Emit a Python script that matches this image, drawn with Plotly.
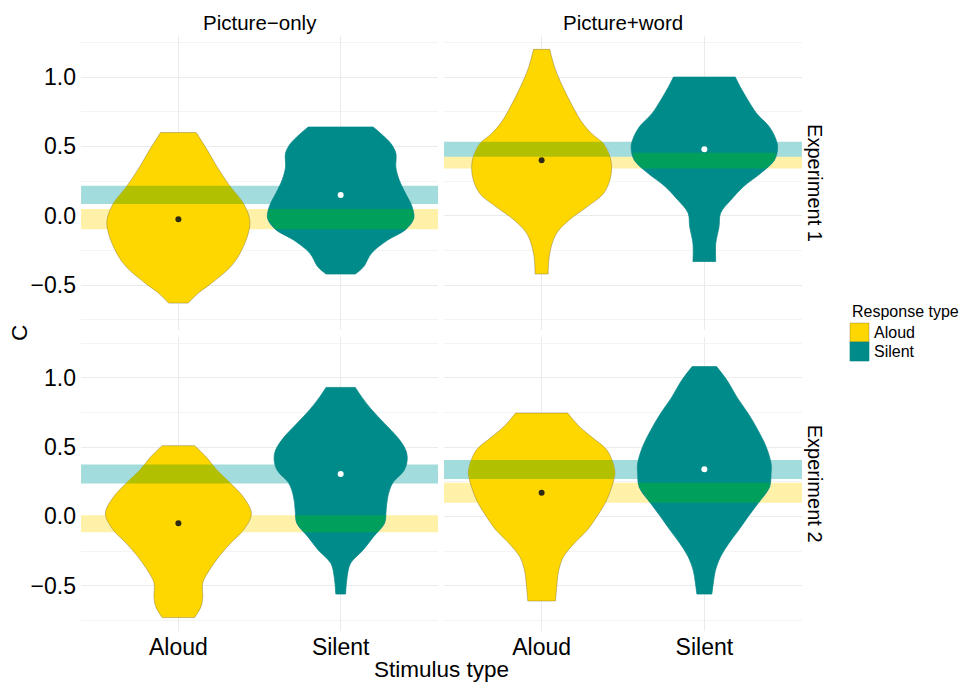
import numpy as np
import plotly.graph_objects as go

# ---- data -------------------------------------------------------------
stimulus_types = ["Picture−only", "Picture+word"]
experiments = ["Experiment 1", "Experiment 2"]
response_types = ["Aloud", "Silent"]

# Violin outlines: C levels (bottom -> top) and density half-widths
# (in category units) for each panel and response type.
e1_po_aloud_c = [-0.63, -0.56, -0.49, -0.37, -0.27, -0.13, -0.03, 0.09, 0.21, 0.35, 0.47, 0.60]
e1_po_aloud_w = [0.06, 0.12, 0.20, 0.32, 0.38, 0.43, 0.44, 0.40, 0.32, 0.24, 0.18, 0.11]
e1_po_silent_c = [-0.42, -0.37, -0.27, -0.175, -0.10, -0.02, 0.065, 0.16, 0.26, 0.35, 0.45, 0.52, 0.59, 0.64]
e1_po_silent_w = [0.09, 0.14, 0.19, 0.29, 0.40, 0.45, 0.44, 0.40, 0.36, 0.34, 0.34, 0.31, 0.25, 0.20]

e1_pw_aloud_c = [-0.42, -0.27, -0.13, -0.03, 0.065, 0.16, 0.26, 0.35, 0.425, 0.52, 0.59, 0.67, 0.79, 0.93, 1.07, 1.20]
e1_pw_aloud_w = [0.04, 0.05, 0.09, 0.17, 0.28, 0.38, 0.42, 0.43, 0.42, 0.38, 0.31, 0.25, 0.19, 0.13, 0.08, 0.05]
e1_pw_silent_c = [-0.33, -0.20, -0.08, 0.02, 0.11, 0.21, 0.31, 0.40, 0.49, 0.55, 0.64, 0.74, 0.83, 0.93, 1.00]
e1_pw_silent_w = [0.07, 0.07, 0.09, 0.10, 0.16, 0.24, 0.35, 0.43, 0.45, 0.44, 0.40, 0.32, 0.27, 0.22, 0.19]

e2_po_aloud_c = [-0.73, -0.65, -0.58, -0.48, -0.39, -0.29, -0.195, -0.10, 0.02, 0.14, 0.24, 0.33, 0.43, 0.51]
e2_po_aloud_w = [0.10, 0.14, 0.15, 0.15, 0.19, 0.25, 0.32, 0.40, 0.45, 0.40, 0.32, 0.24, 0.17, 0.10]
e2_po_silent_c = [-0.56, -0.435, -0.34, -0.24, -0.15, -0.05, 0.045, 0.14, 0.24, 0.33, 0.41, 0.48, 0.57, 0.67, 0.77, 0.86, 0.93]
e2_po_silent_w = [0.03, 0.04, 0.06, 0.14, 0.20, 0.27, 0.28, 0.29, 0.32, 0.39, 0.41, 0.40, 0.35, 0.27, 0.19, 0.13, 0.09]

e2_pw_aloud_c = [-0.61, -0.48, -0.39, -0.29, -0.195, -0.10, 0.00, 0.094, 0.21, 0.31, 0.38, 0.48, 0.57, 0.65, 0.745]
e2_pw_aloud_w = [0.085, 0.095, 0.105, 0.135, 0.20, 0.28, 0.34, 0.39, 0.43, 0.45, 0.44, 0.40, 0.31, 0.23, 0.16]
e2_pw_silent_c = [-0.56, -0.48, -0.39, -0.29, -0.195, -0.10, 0.00, 0.094, 0.21, 0.31, 0.38, 0.50, 0.62, 0.74, 0.86, 0.98, 1.08]
e2_pw_silent_w = [0.046, 0.055, 0.068, 0.10, 0.15, 0.21, 0.27, 0.33, 0.40, 0.41, 0.41, 0.38, 0.33, 0.27, 0.20, 0.14, 0.075]

# Means (dots) and interval bands per panel: [Aloud, Silent]
e1_po_mean = [-0.025, 0.15]
e1_pw_mean = [0.40, 0.48]
e2_po_mean = [-0.05, 0.305]
e2_pw_mean = [0.17, 0.34]

e1_po_band_lo = [-0.098, 0.084]
e1_po_band_hi = [0.048, 0.216]
e1_pw_band_lo = [0.34, 0.425]
e1_pw_band_hi = [0.455, 0.534]
e2_po_band_lo = [-0.115, 0.238]
e2_po_band_hi = [0.009, 0.375]
e2_pw_band_lo = [0.098, 0.269]
e2_pw_band_hi = [0.242, 0.406]

panels = {
    (0, 0): dict(c=[e1_po_aloud_c, e1_po_silent_c], w=[e1_po_aloud_w, e1_po_silent_w],
                 mean=e1_po_mean, lo=e1_po_band_lo, hi=e1_po_band_hi),
    (0, 1): dict(c=[e1_pw_aloud_c, e1_pw_silent_c], w=[e1_pw_aloud_w, e1_pw_silent_w],
                 mean=e1_pw_mean, lo=e1_pw_band_lo, hi=e1_pw_band_hi),
    (1, 0): dict(c=[e2_po_aloud_c, e2_po_silent_c], w=[e2_po_aloud_w, e2_po_silent_w],
                 mean=e2_po_mean, lo=e2_po_band_lo, hi=e2_po_band_hi),
    (1, 1): dict(c=[e2_pw_aloud_c, e2_pw_silent_c], w=[e2_pw_aloud_w, e2_pw_silent_w],
                 mean=e2_pw_mean, lo=e2_pw_band_lo, hi=e2_pw_band_hi),
}

# ---- styles -----------------------------------------------------------
FILL = ["#FFD700", "#008B8B"]
OUTLINE = ["rgba(120,105,50,0.6)", "#008585"]
BAND = ["#FFF1A8", "#A2DCDC"]
# colour of a band where it crosses the violin of the other response type
CROSS = {0: "#00A05C", 1: "#B1C000"}
DOT = ["#2E2912", "#FFFFFF"]
FONT = "Liberation Sans, Arial, Helvetica, sans-serif"

X_DOM = [[0.0844, 0.4563], [0.4625, 0.8354]]
Y_DOM = [[0.5171, 0.9475], [0.0776, 0.5080]]
X_RANGE = [0.4, 2.6]
Y_RANGE = [-0.826, 1.297]


def clipped(c, w, centre, lo, hi):
    """Polygon of a violin restricted to the C interval [lo, hi]."""
    c = np.asarray(c, float)
    w = np.asarray(w, float)
    lo2, hi2 = max(lo, c[0]), min(hi, c[-1])
    if hi2 <= lo2:
        return None
    inner = c[(c > lo2) & (c < hi2)]
    levels = np.concatenate([[lo2], inner, [hi2]])
    half = np.interp(levels, c, w)
    xs = np.concatenate([centre + half, (centre - half)[::-1]])
    ys = np.concatenate([levels, levels[::-1]])
    return np.append(xs, xs[0]), np.append(ys, ys[0])


fig = go.Figure()

for (r, col), p in panels.items():
    k = r * 2 + col + 1
    xa = "x" if k == 1 else f"x{k}"
    ya = "y" if k == 1 else f"y{k}"

    # interval bands across the full panel width
    for i in range(2):
        lo, hi = p["lo"][i], p["hi"][i]
        fig.add_trace(go.Scatter(x=[X_RANGE[0], X_RANGE[1], X_RANGE[1], X_RANGE[0], X_RANGE[0]],
                                 y=[lo, lo, hi, hi, lo], xaxis=xa, yaxis=ya, mode="lines",
                                 fill="toself", fillcolor=BAND[i], line=dict(width=0),
                                 hoverinfo="skip", showlegend=False))

    # violins: left edge, then right edge filled back to it (flat trimmed ends)
    for i in range(2):
        c = np.asarray(p["c"][i], float)
        w = np.asarray(p["w"][i], float)
        centre = i + 1
        fig.add_trace(go.Scatter(x=centre - w, y=c, xaxis=xa, yaxis=ya, mode="lines",
                                 line=dict(color=OUTLINE[i], width=0.7, shape="spline", smoothing=1),
                                 hoverinfo="skip", showlegend=False))
        fig.add_trace(go.Scatter(x=centre + w, y=c, xaxis=xa, yaxis=ya, mode="lines",
                                 fill="tonextx", fillcolor=FILL[i],
                                 line=dict(color=OUTLINE[i], width=0.7, shape="spline", smoothing=1),
                                 hoverinfo="skip", showlegend=False))
        for j in (0, -1):
            fig.add_trace(go.Scatter(x=[centre - w[j], centre + w[j]], y=[c[j], c[j]],
                                     xaxis=xa, yaxis=ya, mode="lines",
                                     line=dict(color=OUTLINE[i], width=0.7),
                                     hoverinfo="skip", showlegend=False))

    # band colour where it crosses the other response type's violin
    for b in range(2):
        v = 1 - b
        res = clipped(p["c"][v], p["w"][v], v + 1, p["lo"][b], p["hi"][b])
        if res is None:
            continue
        xs, ys = res
        fig.add_trace(go.Scatter(x=xs, y=ys, xaxis=xa, yaxis=ya, mode="lines",
                                 fill="toself", fillcolor=CROSS[b],
                                 line=dict(color=CROSS[b], width=0),
                                 hoverinfo="skip", showlegend=False))

    # means
    fig.add_trace(go.Scatter(x=[1, 2], y=p["mean"], xaxis=xa, yaxis=ya, mode="markers",
                             marker=dict(color=DOT, size=6, line=dict(width=0)),
                             hoverinfo="skip", showlegend=False))

layout = dict(
    width=960, height=684,
    margin=dict(l=0, r=0, t=0, b=0),
    paper_bgcolor="white", plot_bgcolor="white",
    font=dict(family=FONT, color="black"),
    showlegend=False,
)

for r in range(2):
    for col in range(2):
        k = r * 2 + col + 1
        xk = "xaxis" if k == 1 else f"xaxis{k}"
        yk = "yaxis" if k == 1 else f"yaxis{k}"
        ya = "y" if k == 1 else f"y{k}"
        xa = "x" if k == 1 else f"x{k}"
        layout[xk] = dict(domain=X_DOM[col], anchor=ya, range=X_RANGE,
                          tickvals=[1, 2], ticktext=response_types,
                          showticklabels=(r == 1), ticks="", showline=False, zeroline=False,
                          showgrid=True, gridcolor="#EBEBEB", gridwidth=1,
                          tickfont=dict(size=23, color="black"), fixedrange=True)
        layout[yk] = dict(domain=Y_DOM[r], anchor=xa, range=Y_RANGE,
                          tickvals=[-0.5, 0, 0.5, 1.0], ticktext=["−0.5", "0.0", "0.5", "1.0"],
                          showticklabels=(col == 0), ticks="", showline=False, zeroline=False,
                          showgrid=True, gridcolor="#EBEBEB", gridwidth=1,
                          minor=dict(tickvals=[-0.75, -0.25, 0.25, 0.75, 1.25], showgrid=True,
                                     gridcolor="#F4F4F4", gridwidth=0.8),
                          ticklabelstandoff=4,
                          tickfont=dict(size=23, color="black"), fixedrange=True)

ann = []
for col, name in enumerate(stimulus_types):
    ann.append(dict(text=name, x=sum(X_DOM[col]) / 2, y=0.9678, xref="paper", yref="paper",
                    showarrow=False, xanchor="center", yanchor="middle",
                    font=dict(size=20.5, family=FONT, color="black")))
for r, name in enumerate(experiments):
    ann.append(dict(text=name, x=0.849, y=sum(Y_DOM[r]) / 2, xref="paper", yref="paper",
                    showarrow=False, xanchor="center", yanchor="middle", textangle=90,
                    font=dict(size=20, family=FONT, color="black")))
ann.append(dict(text="C", x=0.0208, y=0.5132, xref="paper", yref="paper", showarrow=False,
                xanchor="center", yanchor="middle", textangle=-90,
                font=dict(size=22.5, family=FONT, color="black")))
ann.append(dict(text="Stimulus type", x=0.46, y=0.0205, xref="paper", yref="paper",
                showarrow=False, xanchor="center", yanchor="middle",
                font=dict(size=22.5, family=FONT, color="black")))

# legend drawn in paper space
shapes = []
ann.append(dict(text="Response type", x=0.8854, y=0.5439, xref="paper", yref="paper",
                showarrow=False, xanchor="left", yanchor="middle",
                font=dict(size=16, family=FONT, color="black")))
key_top = [0.5278, 0.5000]
key_h = 0.0278
for i, name in enumerate(response_types):
    shapes.append(dict(type="rect", xref="paper", yref="paper",
                       x0=0.8854, x1=0.9052, y0=key_top[i] - key_h, y1=key_top[i],
                       fillcolor=FILL[i], line=dict(color=OUTLINE[i], width=0.6)))
    ann.append(dict(text=name, x=0.9083, y=key_top[i] - key_h / 2, xref="paper", yref="paper",
                    showarrow=False, xanchor="left", yanchor="middle",
                    font=dict(size=16, family=FONT, color="black")))

layout["shapes"] = shapes
layout["annotations"] = ann
fig.update_layout(**layout)
fig.write_html("out.html")
